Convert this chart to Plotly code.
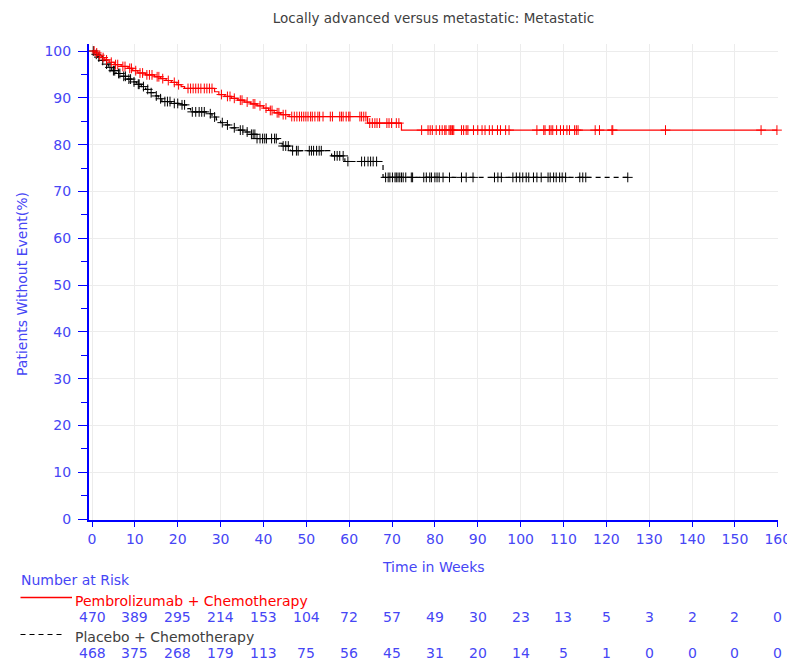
import bisect
import plotly.graph_objects as go

# Kaplan-Meier step points (weeks, % without event)
pembro_times = [0, 0.7, 1.4, 2.2, 3.0, 4.0, 5.2, 6.8, 8.4, 9.5, 10.7, 12.5, 14.6, 16.0, 17.3,
                18.5, 19.8, 20.8, 21.6, 28.6, 29.6, 31.0, 32.5, 34.0, 35.5, 37.0, 38.5, 40.0,
                41.2, 42.5, 44.0, 46.0, 64.3, 72.2]
pembro_surv = [100, 99.6, 99.1, 98.6, 98.1, 97.6, 97.1, 96.7, 96.3, 95.8, 95.3, 94.9, 94.5, 94.1,
               93.7, 93.3, 92.8, 92.4, 92.0, 91.3, 90.7, 90.3, 89.9, 89.5, 89.1, 88.7, 88.3, 87.8,
               87.3, 86.8, 86.4, 86.0, 84.6, 83.1]
pembro_censor = [0.5, 1.1, 1.8, 2.6, 3.4, 4.5, 5.5, 6.0, 7.2, 7.7, 8.8, 9.2, 10.2, 11.2, 11.8,
                 12.8, 13.4, 14.0, 15.2, 15.6, 16.5, 17.8, 19.2, 20.2, 22.4, 23.0, 23.6, 24.2,
                 24.8, 25.4, 26.2, 26.8, 27.4, 28.0, 30.2, 31.6, 32.2, 33.2, 34.6, 35.0, 36.2,
                 37.6, 38.0, 39.2, 40.6, 41.6, 42.0, 43.2, 43.6, 44.6, 45.2, 46.6, 47.2, 47.8,
                 48.4, 48.9, 49.4, 49.9, 50.4, 51.0, 51.4, 52.0, 52.7, 53.1, 53.9, 55.6, 56.1,
                 57.8, 58.2, 58.6, 59.3, 59.9, 60.2, 62.5, 62.9, 63.4, 63.9, 64.8, 65.4, 66.0,
                 66.5, 67.1, 68.8, 69.3, 69.9, 71.0, 71.6, 76.9, 78.4, 78.9, 79.4, 80.3, 81.1,
                 81.7, 82.3, 82.6, 83.3, 83.6, 83.8, 84.1, 84.4, 86.2, 86.7, 87.3, 87.7, 89.0,
                 90.0, 91.0, 91.7, 92.7, 93.4, 94.6, 95.3, 96.5, 97.3, 103.8, 105.4, 105.7,
                 106.7, 107.1, 107.5, 108.4, 109.3, 110.0, 110.8, 111.4, 112.6, 113.0, 113.4,
                 117.4, 118.4, 121.3, 121.5, 133.8, 156.1, 159.8]

placebo_times = [0, 0.6, 1.2, 2.0, 3.0, 3.8, 4.6, 5.6, 6.8, 8.0, 9.2, 10.4, 11.5, 12.5, 13.5,
                 14.5, 15.5, 16.3, 18.5, 20.5, 22.3, 23.0, 27.0, 28.0, 29.0, 30.0, 31.0, 32.5,
                 34.0, 35.5, 37.0, 38.3, 43.4, 44.4, 46.3, 55.9, 59.0, 67.9]
placebo_surv = [100, 99.3, 98.7, 98.0, 97.2, 96.5, 95.8, 95.2, 94.6, 94.0, 93.4, 92.9, 92.4,
                91.8, 91.1, 90.4, 89.8, 89.2, 88.8, 88.5, 87.7, 87.0, 86.6, 85.9, 85.3, 84.7,
                84.2, 83.6, 83.1, 82.7, 82.2, 81.3, 80.3, 79.7, 78.7, 77.6, 76.4, 73.0]
placebo_censor = [0.3, 1.0, 1.6, 2.5, 3.4, 4.2, 5.0, 5.3, 6.2, 6.5, 7.4, 7.8, 8.6, 9.0, 9.8,
                  10.8, 11.0, 12.0, 13.0, 13.8, 15.0, 16.0, 17.0, 17.6, 18.2, 19.2, 20.0, 21.0,
                  21.6, 23.4, 24.2, 25.0, 25.6, 26.2, 27.6, 28.6, 30.4, 31.6, 33.2, 34.6, 35.2,
                  36.2, 37.2, 37.6, 38.0, 38.5, 39.2, 39.8, 40.3, 40.7, 41.9, 42.6, 43.0, 44.6,
                  45.2, 45.8, 46.8, 47.7, 48.1, 50.7, 51.2, 51.7, 52.4, 53.0, 53.5, 56.6, 57.2,
                  57.8, 58.6, 59.7, 62.9, 63.6, 64.4, 65.0, 65.6, 66.4, 68.5, 69.1, 69.5, 70.1,
                  70.7, 71.0, 71.4, 71.8, 72.2, 72.6, 73.2, 74.5, 74.8, 77.4, 78.0, 78.8, 79.2,
                  80.0, 80.5, 81.0, 81.9, 83.4, 86.2, 87.3, 88.9, 93.9, 94.7, 95.5, 98.2, 99.0,
                  99.8, 100.5, 101.3, 101.9, 103.0, 103.8, 104.8, 106.4, 106.9, 107.7, 108.3,
                  109.1, 109.7, 110.5, 113.8, 114.5, 115.2, 125.0]

# Number at risk table
risk_weeks = [0, 10, 20, 30, 40, 50, 60, 70, 80, 90, 100, 110, 120, 130, 140, 150, 160]
pembro_risk = [470, 389, 295, 214, 153, 104, 72, 57, 49, 30, 23, 13, 5, 3, 2, 2, 0]
placebo_risk = [468, 375, 268, 179, 113, 75, 56, 45, 31, 20, 14, 5, 1, 0, 0, 0, 0]

RED = "#ff0000"
BLACK = "#000000"
AXIS_BLUE = "#0000ff"
TEXT_BLUE = "#4646f5"
FONT = "DejaVu Sans, Verdana, sans-serif"
FS = 14

W, H = 787, 662
L, R, T, B = 89, 9, 44, 142
PLOT_W, PLOT_H = W - L - R, H - T - B


def px_x(px):
    return (px - L) / PLOT_W


def px_y(py):
    return (H - B - py) / PLOT_H


def surv_at(t, times, surv):
    i = bisect.bisect_right(times, t) - 1
    return surv[max(i, 0)]


def step_path(times, surv, end):
    return times + [end], surv + [surv[-1]]


def label(text, x, y, color, xref="paper", xanchor="left", **kw):
    return dict(x=x, xref=xref, y=y, yref="paper", text=text, showarrow=False,
                xanchor=xanchor, yanchor="middle", borderpad=0,
                font=dict(color=color, size=FS, family=FONT), **kw)


fig = go.Figure()

for times, surv, cens, color, dash in [
    (placebo_times, placebo_surv, placebo_censor, BLACK, "5px,4px"),
    (pembro_times, pembro_surv, pembro_censor, RED, "solid"),
]:
    xs, ys = step_path(times, surv, max(cens))
    fig.add_trace(go.Scatter(x=xs, y=ys, mode="lines", line_shape="hv",
                             line=dict(color=color, width=1.2, dash=dash),
                             hoverinfo="skip", showlegend=False))
    fig.add_trace(go.Scatter(x=cens, y=[surv_at(t, times, surv) for t in cens],
                             mode="markers", cliponaxis=False, showlegend=False,
                             marker=dict(symbol="cross-thin", size=7,
                                         line=dict(color=color, width=1))))

annotations = []
for wk, n1, n2 in zip(risk_weeks, pembro_risk, placebo_risk):
    annotations.append(label(str(n1), wk, px_y(617), TEXT_BLUE, xref="x", xanchor="center"))
    annotations.append(label(str(n2), wk, px_y(653), TEXT_BLUE, xref="x", xanchor="center"))

annotations += [
    label("Number at Risk", px_x(20), px_y(580), TEXT_BLUE),
    label("Pembrolizumab + Chemotherapy", px_x(74), px_y(601), RED),
    label("Placebo + Chemotherapy", px_x(74), px_y(637), "#404040"),
    label("Time in Weeks", 0.5, px_y(567), TEXT_BLUE, xanchor="center"),
    label("Patients Without Event(%)", px_x(22), px_y(284), TEXT_BLUE,
          xanchor="center", textangle=-90),
]

# Line samples beside the number-at-risk row labels
shapes = [
    dict(type="line", xref="paper", yref="paper", x0=px_x(20.5), x1=px_x(72),
         y0=px_y(597.5), y1=px_y(597.5), line=dict(color=RED, width=1.5)),
    dict(type="line", xref="paper", yref="paper", x0=px_x(20.5), x1=px_x(63),
         y0=px_y(634.5), y1=px_y(634.5), line=dict(color=BLACK, width=1, dash="5px,4px")),
]

fig.update_layout(
    width=W, height=H,
    margin=dict(l=L, r=R, t=T, b=B, pad=0, autoexpand=False),
    paper_bgcolor="white", plot_bgcolor="white",
    font=dict(family=FONT, size=FS, color=TEXT_BLUE),
    title=dict(text="Locally advanced versus metastatic: Metastatic",
               x=0.5, xref="paper", y=1 - 18 / H, yref="container",
               xanchor="center", yanchor="middle",
               font=dict(family=FONT, size=13.5, color="#404040")),
    annotations=annotations,
    shapes=shapes,
    xaxis=dict(range=[-0.7, 160.05], tickmode="array", tickvals=risk_weeks,
               automargin=False,
               showline=True, linecolor=AXIS_BLUE, linewidth=1.5,
               ticks="outside", ticklen=5, tickcolor=AXIS_BLUE, tickwidth=1,
               ticklabeloverflow="allow",
               tickfont=dict(color=TEXT_BLUE, size=FS, family=FONT),
               showgrid=True, gridcolor="#ececec", gridwidth=1, zeroline=False),
    yaxis=dict(range=[-0.2, 101.5], tickmode="linear", tick0=0, dtick=10,
               automargin=False,
               showline=True, linecolor=AXIS_BLUE, linewidth=2,
               ticks="outside", ticklen=9, tickcolor=AXIS_BLUE, tickwidth=1,
               ticklabelstandoff=4,
               tickfont=dict(color=TEXT_BLUE, size=FS, family=FONT),
               minor=dict(dtick=5, tick0=0, ticks="outside", ticklen=6,
                          tickcolor=AXIS_BLUE, showgrid=False),
               showgrid=True, gridcolor="#ececec", gridwidth=1, zeroline=False),
)

fig.write_html("out.html")
